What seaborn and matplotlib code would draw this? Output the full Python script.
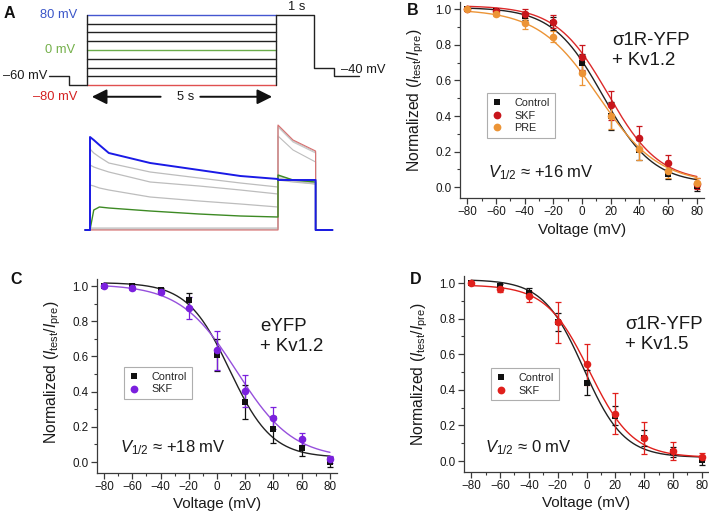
import numpy as np
import pandas as pd
import matplotlib
matplotlib.use("Agg")
import matplotlib.pyplot as plt
from matplotlib.lines import Line2D
from matplotlib.ticker import MultipleLocator, FormatStrFormatter
import seaborn as sns

# ---------------- data ----------------
volt = [-80, -60, -40, -20, 0, 20, 40, 60, 80]

# Panel B: sigma1R-YFP + Kv1.2
b_ctrl = [1.00, 0.99, 0.96, 0.92, 0.70, 0.40, 0.21, 0.075, 0.005]
b_ctrl_err = [0.005, 0.01, 0.02, 0.035, 0.05, 0.08, 0.055, 0.03, 0.025]
b_skf = [1.00, 0.99, 0.975, 0.93, 0.73, 0.46, 0.275, 0.135, 0.02]
b_skf_err = [0.005, 0.01, 0.025, 0.035, 0.07, 0.08, 0.07, 0.045, 0.03]
b_pre = [1.00, 0.975, 0.92, 0.845, 0.64, 0.40, 0.215, 0.09, 0.025]
b_pre_err = [0.005, 0.012, 0.03, 0.03, 0.065, 0.075, 0.06, 0.04, 0.025]

# Panel C: eYFP + Kv1.2
c_ctrl = [1.00, 1.00, 0.98, 0.92, 0.61, 0.34, 0.185, 0.08, 0.0]
c_ctrl_err = [0.005, 0.01, 0.01, 0.04, 0.09, 0.095, 0.075, 0.045, 0.028]
c_skf = [1.00, 0.99, 0.965, 0.875, 0.635, 0.405, 0.25, 0.13, 0.015]
c_skf_err = [0.005, 0.01, 0.01, 0.065, 0.11, 0.09, 0.06, 0.035, 0.02]

# Panel D: sigma1R-YFP + Kv1.5
d_ctrl = [1.00, 0.985, 0.945, 0.78, 0.44, 0.255, 0.13, 0.05, 0.005]
d_ctrl_err = [0.005, 0.01, 0.025, 0.05, 0.07, 0.055, 0.045, 0.03, 0.025]
d_skf = [1.00, 0.965, 0.925, 0.78, 0.545, 0.265, 0.13, 0.055, 0.025]
d_skf_err = [0.005, 0.015, 0.03, 0.115, 0.115, 0.115, 0.09, 0.05, 0.018]

# Boltzmann fit parameters: (top, bottom, V1/2, slope)
b_ctrl_fit = (1.01, 0.02, 14.5, 17.5)
b_skf_fit = (1.02, 0.03, 18.0, 18.0)
b_pre_fit = (1.00, 0.02, 11.5, 21.0)
c_ctrl_fit = (1.02, 0.025, 9.0, 15.0)
c_skf_fit = (1.01, 0.02, 14.0, 20.0)
d_ctrl_fit = (1.02, 0.02, -2.0, 14.0)
d_skf_fit = (0.99, 0.02, 2.0, 15.0)

# Panel A: pulse protocol (mV, s)
prot_levels = [80, 60, 40, 20, 0, -20, -40, -60, -80]
hold_mv = -60
prepulse_mv = -80
test_mv = 80
post_mv = [-40, -60]
t_hold = [-1.0, -0.48, 0.0]
t_step = [0.0, 5.0]
t_test = [5.0, 6.0]
t_post = [6.0, 6.55, 7.2]

# Panel A: current traces (arbitrary units), conditioning and test segments
t_cond = [0.0, 0.1, 0.25, 0.5, 1.6, 2.9, 4.0, 5.0]
t_tst = [5.0, 5.4, 6.0]
cur_p80_cond = [93, 90, 85, 77, 67, 60, 54, 51]
cur_p80_test = [50, 50, 50]
cur_p60_cond = [81, 77, 73, 67, 58, 52, 47, 43]
cur_p60_test = [50, 48, 46]
cur_p40_cond = [65, 63, 61, 58, 48, 44, 40, 36]
cur_p40_test = [52, 49, 46]
cur_p20_cond = [45, 44, 42, 40, 33, 29, 26, 23]
cur_p20_test = [54, 50, 47]
cur_0_cond = [0, 20, 23, 22, 19, 16, 14, 13]
cur_0_test = [55, 50, 48]
cur_m20_cond = [2, 2, 2, 2, 2, 2, 2, 2]
cur_m20_test = [94, 80, 68]
cur_m40_cond = [1, 1, 1, 1, 1, 1, 1, 1]
cur_m40_test = [103, 88, 77]
cur_m60_cond = [0.5, 0.5, 0.5, 0.5, 0.5, 0.5, 0.5, 0.5]
cur_m60_test = [104, 89, 78]
cur_m80_cond = [0, 0, 0, 0, 0, 0, 0, 0]
cur_m80_test = [105, 90, 79]

# ---------------- style ----------------
sns.set_style("ticks")
plt.rcParams["font.family"] = ["Liberation Sans", "DejaVu Sans"]
plt.rcParams["mathtext.fontset"] = "custom"
plt.rcParams["mathtext.rm"] = "Liberation Sans"
plt.rcParams["mathtext.it"] = "Liberation Sans:italic"
plt.rcParams["mathtext.bf"] = "Liberation Sans:bold"
plt.rcParams["axes.unicode_minus"] = True

W, H = 709, 513
fig = plt.figure(figsize=(W / 100, H / 100), dpi=100)


def px_axes(l, t, r, b):
    return fig.add_axes([l / W, 1 - b / H, (r - l) / W, (b - t) / H])


def boltz(v, top, bottom, vh, k):
    v = np.asarray(v, dtype=float)
    return bottom + (top - bottom) / (1 + np.exp((v - vh) / k))


v_fit = np.linspace(-80, 80, 321)
SPINE = "#3a3a3a"
YLAB = r"Normalized ($I_{\mathrm{test}}/I_{\mathrm{pre}}$)"


def style_iv(ax):
    ax.set_xlim(-85, 85)
    ax.set_ylim(-0.06, 1.04)
    sns.despine(ax=ax)
    for s in ("left", "bottom"):
        ax.spines[s].set_color(SPINE)
        ax.spines[s].set_linewidth(0.9)
    ax.xaxis.set_major_locator(MultipleLocator(20))
    ax.xaxis.set_minor_locator(MultipleLocator(10))
    ax.yaxis.set_major_locator(MultipleLocator(0.2))
    ax.yaxis.set_minor_locator(MultipleLocator(0.1))
    ax.yaxis.set_major_formatter(FormatStrFormatter("%.1f"))
    ax.tick_params(which="major", direction="out", length=4, width=0.9,
                   color=SPINE, labelsize=8.4, pad=2, labelcolor="#1a1a1a")
    ax.tick_params(which="minor", direction="out", length=2.2, width=0.8,
                   color=SPINE)
    ax.set_xlabel("Voltage (mV)", fontsize=11, color="#1a1a1a")
    ax.set_ylabel(YLAB, fontsize=11.3, color="#1a1a1a")


def series(ax, y, err, fit, color, lcolor, marker, size):
    sns.lineplot(x=v_fit, y=boltz(v_fit, *fit), color=lcolor, lw=1.0, ax=ax,
                 zorder=2)
    ax.errorbar(volt, y, yerr=err, fmt="none", ecolor=color, elinewidth=0.9,
                capsize=2.5, capthick=0.9, zorder=3)
    sns.scatterplot(x=volt, y=y, marker=marker, s=size, color=color,
                    linewidth=0, ax=ax, zorder=4)


def legend(ax, entries, x, y):
    handles = [Line2D([], [], marker=m, color=c, linestyle="none",
                      markersize=ms, markeredgewidth=0) for (_, c, m, ms) in entries]
    labels = [e[0] for e in entries]
    leg = ax.legend(handles, labels, loc="upper left", bbox_to_anchor=(x, y),
                    fontsize=7.8, frameon=True, fancybox=False,
                    handlelength=1.0, handletextpad=1.1, borderpad=0.45,
                    labelspacing=0.25, borderaxespad=0)
    leg.get_frame().set_edgecolor("#9a9a9a")
    leg.get_frame().set_linewidth(0.8)


BLACK = "#111111"
RED_B = "#c8161c"
RED_BL = "#dc2a2a"
ORANGE = "#ec9436"
PURPLE = "#7b20de"
PURPLE_L = "#9650dc"
RED_D = "#e0201c"

# ---------------- panel B ----------------
axB = px_axes(460, 2, 704, 198)
style_iv(axB)
series(axB, b_ctrl, b_ctrl_err, b_ctrl_fit, BLACK, "#222222", "s", 22)
series(axB, b_skf, b_skf_err, b_skf_fit, RED_B, RED_BL, "o", 30)
series(axB, b_pre, b_pre_err, b_pre_fit, ORANGE, ORANGE, "o", 30)
legend(axB, [("Control", BLACK, "s", 4.6), ("SKF", RED_B, "o", 5.6),
             ("PRE", ORANGE, "o", 5.6)], 0.11, 0.536)
axB.text(0.623, 0.806, "\u03c31R-YFP", transform=axB.transAxes, fontsize=13.4,
         ha="left", va="center", color="#1a1a1a")
axB.text(0.623, 0.699, "+ Kv1.2", transform=axB.transAxes, fontsize=13.4,
         ha="left", va="center", color="#1a1a1a")
axB.text(0.115, 0.128, r"$V_{1/2}$ " + "\u2248 +16 mV",
         transform=axB.transAxes, fontsize=12, ha="left", va="center",
         color="#1a1a1a")
axB.yaxis.set_label_coords(-0.139, 0.5)
axB.xaxis.set_label_coords(0.5, -0.165)
axB.xaxis.label.set_va("center")

# ---------------- panel C ----------------
axC = px_axes(97, 279, 337, 472.6)
style_iv(axC)
series(axC, c_ctrl, c_ctrl_err, c_ctrl_fit, BLACK, "#222222", "s", 22)
series(axC, c_skf, c_skf_err, c_skf_fit, PURPLE, PURPLE_L, "o", 30)
legend(axC, [("Control", BLACK, "s", 4.6), ("SKF", PURPLE, "o", 5.6)],
       0.1125, 0.546)
axC.text(0.679, 0.753, "eYFP", transform=axC.transAxes, fontsize=13.4,
         ha="left", va="center", color="#1a1a1a")
axC.text(0.679, 0.649, "+ Kv1.2", transform=axC.transAxes, fontsize=13.4,
         ha="left", va="center", color="#1a1a1a")
axC.text(0.096, 0.129, r"$V_{1/2}$ " + "\u2248 +18 mV",
         transform=axC.transAxes, fontsize=12, ha="left", va="center",
         color="#1a1a1a")
axC.yaxis.set_label_coords(-0.142, 0.52)
axC.xaxis.set_label_coords(0.5, -0.16)
axC.xaxis.label.set_va("center")

# ---------------- panel D ----------------
axD = px_axes(464, 276, 709, 471.7)
style_iv(axD)
series(axD, d_ctrl, d_ctrl_err, d_ctrl_fit, BLACK, "#222222", "s", 22)
series(axD, d_skf, d_skf_err, d_skf_fit, RED_D, RED_D, "o", 30)
legend(axD, [("Control", BLACK, "s", 4.6), ("SKF", RED_D, "o", 5.6)],
       0.11, 0.53)
axD.text(0.657, 0.75, "\u03c31R-YFP", transform=axD.transAxes, fontsize=13.4,
         ha="left", va="center", color="#1a1a1a")
axD.text(0.657, 0.648, "+ Kv1.5", transform=axD.transAxes, fontsize=13.4,
         ha="left", va="center", color="#1a1a1a")
axD.text(0.086, 0.122, r"$V_{1/2}$ " + "\u2248 0 mV",
         transform=axD.transAxes, fontsize=12, ha="left", va="center",
         color="#1a1a1a")
axD.yaxis.set_label_coords(-0.139, 0.5)
axD.xaxis.set_label_coords(0.5, -0.16)
axD.xaxis.label.set_va("center")

# ---------------- panel A: protocol ----------------
axP = px_axes(0, 0, 370, 108)
axP.set_xlim(-2.30, 7.49)
axP.set_ylim(-131.5, 113.4)
axP.axis("off")
level_colors = {80: "#4456d0", 0: "#6aac4a", -80: "#e05050"}
LK = "#222222"
sns.lineplot(x=[t_hold[0], t_hold[1], t_hold[1], t_hold[2]],
             y=[hold_mv, hold_mv, prepulse_mv, prepulse_mv],
             color=LK, lw=1.0, ax=axP, sort=False, estimator=None)
for lv in prot_levels:
    sns.lineplot(x=t_step, y=[lv, lv], color=level_colors.get(lv, LK),
                 lw=1.0, ax=axP, sort=False, estimator=None)
sns.lineplot(x=[t_step[0], t_step[0]], y=[min(prot_levels), max(prot_levels)],
             color=LK, lw=1.0, ax=axP, sort=False, estimator=None)
sns.lineplot(x=[t_step[1], t_step[1]], y=[min(prot_levels), max(prot_levels)],
             color=LK, lw=1.0, ax=axP, sort=False, estimator=None)
sns.lineplot(x=[t_test[0], t_test[1], t_post[0], t_post[1], t_post[1], t_post[2]],
             y=[test_mv, test_mv, post_mv[0], post_mv[0], post_mv[1], post_mv[1]],
             color=LK, lw=1.0, ax=axP, sort=False, estimator=None)
fsP = 9.3
axP.text(-0.25, 80, "80 mV", color="#3a55c8", fontsize=fsP, ha="right", va="center")
axP.text(-0.32, 0, "0 mV", color="#74b04a", fontsize=fsP, ha="right", va="center")
axP.text(-1.05, -60, "\u201360 mV", color="#1a1a1a", fontsize=fsP, ha="right", va="center")
axP.text(-0.24, -106, "\u201380 mV", color="#d42020", fontsize=fsP, ha="right", va="center")
axP.text(5.55, 97, "1 s", color="#1a1a1a", fontsize=fsP, ha="center", va="center")
axP.text(6.72, -45, "\u201340 mV", color="#1a1a1a", fontsize=fsP, ha="left", va="center")
axP.text(2.6, -106, "5 s", color="#1a1a1a", fontsize=fsP, ha="center", va="center")
arrow_kw = dict(arrowstyle="-|>,head_length=0.9,head_width=0.45", color="#111111",
                lw=1.4, shrinkA=0, shrinkB=0, mutation_scale=10)
axP.annotate("", xy=(0.13, -106), xytext=(1.95, -106), arrowprops=arrow_kw)
axP.annotate("", xy=(4.9, -106), xytext=(3.0, -106), arrowprops=arrow_kw)

# ---------------- panel A: traces ----------------
axT = px_axes(80, 110, 340, 240)
axT.set_xlim(-0.266, 6.649)
axT.set_ylim(-10, 120)
axT.axis("off")
traces = [
    (cur_m60_cond, cur_m60_test, "#c8c8c8", 0.8),
    (cur_m40_cond, cur_m40_test, "#c8c8c8", 0.8),
    (cur_m20_cond, cur_m20_test, "#bdbdbd", 0.8),
    (cur_p20_cond, cur_p20_test, "#bdbdbd", 0.9),
    (cur_p40_cond, cur_p40_test, "#bdbdbd", 0.9),
    (cur_p60_cond, cur_p60_test, "#bdbdbd", 0.9),
    (cur_m80_cond, cur_m80_test, "#d87070", 0.8),
    (cur_0_cond, cur_0_test, "#3d8a24", 1.0),
    (cur_p80_cond, cur_p80_test, "#1a1ae6", 1.4),
]
for cond, test, col, lw in traces:
    tx = [-0.13, 0.0] + t_cond + t_tst + [6.0, 6.45]
    ty = [0, 0] + cond + test + [0, 0]
    sns.lineplot(x=tx, y=ty, color=col, lw=lw, ax=axT, sort=False, estimator=None)

# ---------------- panel letters ----------------
for lab, x, y in [("A", 4, 14), ("B", 407, 11), ("C", 10, 280), ("D", 410, 280)]:
    fig.text(x / W, 1 - y / H, lab, fontsize=11.5, fontweight="bold",
             ha="left", va="center", color="#111111")

fig.savefig("out.png", dpi=100)
